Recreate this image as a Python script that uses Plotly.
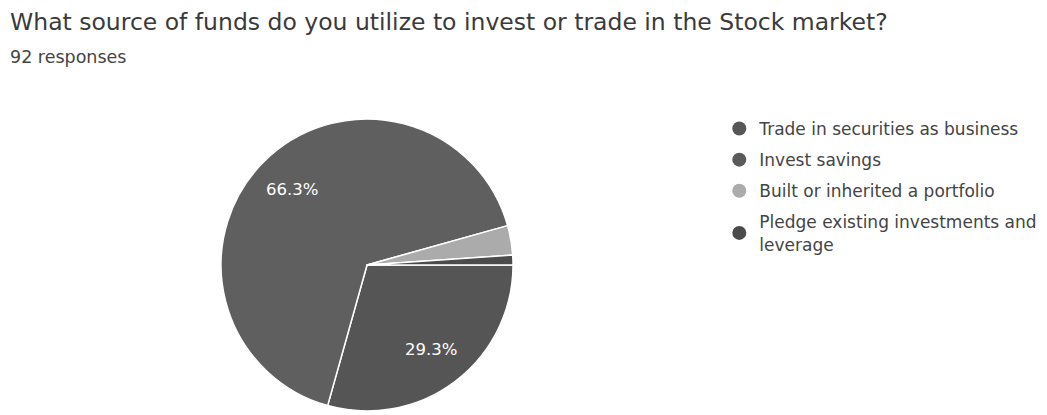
import math
import plotly.graph_objects as go

# Survey answers (92 responses)
legend_labels = [
    "Trade in securities as business",
    "Invest savings",
    "Built or inherited a portfolio",
    "Pledge existing investments and<br>leverage",
]
legend_colors = ["#575757", "#5a5a5a", "#ababab", "#4a4a4a"]

# Slices in drawing order, clockwise from 3 o'clock
slice_labels = ["Invest savings", "Trade in securities as business",
                "Built or inherited a portfolio", "Pledge existing investments and leverage"]
slice_counts = [27, 61, 3, 1]
slice_colors = ["#555555", "#5f5f5f", "#ababab", "#4b4b4b"]
show_pct = [True, True, False, False]

FONT = "DejaVu Sans, Arial, sans-serif"
W, H = 1047, 415
START_ANGLE = 90
pie_x = [0.2111, 0.49]
pie_y = [0.0096, 0.7133]

fig = go.Figure()

fig.add_trace(go.Pie(
    labels=slice_labels,
    values=slice_counts,
    sort=False,
    direction="clockwise",
    rotation=START_ANGLE,
    marker=dict(colors=slice_colors, line=dict(color="#ffffff", width=1.5)),
    textinfo="none",
    showlegend=False,
    hoverinfo="label+percent",
    domain=dict(x=pie_x, y=pie_y),
))

# Percentage labels placed at ~72% of the radius along each slice's mid-angle
cx = (pie_x[0] + pie_x[1]) / 2 * W
cy = (1 - (pie_y[0] + pie_y[1]) / 2) * H
radius = min((pie_x[1] - pie_x[0]) * W, (pie_y[1] - pie_y[0]) * H) / 2
total = sum(slice_counts)
pct_annotations = []
acc = 0
for count, show in zip(slice_counts, show_pct):
    mid = math.radians(START_ANGLE + (acc + count / 2) / total * 360)
    acc += count
    if not show:
        continue
    px = cx + 0.73 * radius * math.sin(mid)
    py = cy - 0.73 * radius * math.cos(mid)
    pct_annotations.append(dict(
        text=f"{count / total * 100:.1f}%", x=px / W, y=1 - py / H,
        xref="paper", yref="paper", showarrow=False,
        xanchor="center", yanchor="middle",
        font=dict(family=FONT, size=16.5, color="#ffffff"),
    ))

# Legend entries with round markers
for name, color in zip(legend_labels, legend_colors):
    fig.add_trace(go.Scatter(
        x=[None], y=[None], mode="markers", name=name,
        marker=dict(symbol="circle", size=14, color=color),
        legendgroup=name,
    ))

fig.update_layout(
    width=W, height=H,
    margin=dict(l=0, r=0, t=0, b=0, autoexpand=False),
    paper_bgcolor="#ffffff",
    plot_bgcolor="#ffffff",
    xaxis=dict(visible=False),
    yaxis=dict(visible=False),
    legend=dict(
        x=0.687, y=1 - 111 / H, xanchor="left", yanchor="top",
        font=dict(family=FONT, size=17, color="#444444"),
        tracegroupgap=6,
        itemsizing="trace", bgcolor="rgba(0,0,0,0)",
    ),
    annotations=[
        dict(text="What source of funds do you utilize to invest or trade in the Stock market?",
             x=8 / W, y=1 - 22 / H, xref="paper", yref="paper",
             xanchor="left", yanchor="middle", showarrow=False,
             font=dict(family=FONT, size=23.5, color="#3a3a3a")),
        dict(text="92 responses",
             x=8 / W, y=1 - 57 / H, xref="paper", yref="paper",
             xanchor="left", yanchor="middle", showarrow=False,
             font=dict(family=FONT, size=17.5, color="#444444")),
    ] + pct_annotations,
)

fig.write_html("out.html")
